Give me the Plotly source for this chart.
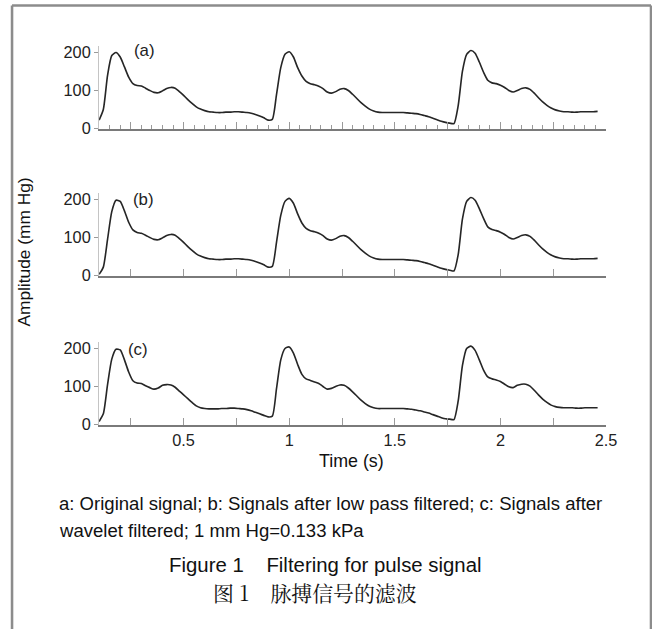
import plotly.graph_objects as go

# ---------------- data ----------------
time_s = [round(0.10 + 0.02 * i, 2) for i in range(119)]  # sampling grid 0.10 .. 2.46 s

signal_a = [
    22, 50, 140, 192, 200, 188, 162, 135, 118, 113,
    112, 106, 100, 95, 94, 99, 105, 108, 106, 97,
    87, 76, 66, 57, 51, 47, 44, 43, 42, 42,
    43, 43, 44, 44, 43, 42, 40, 37, 33, 28,
    22, 24, 90, 160, 195, 202, 188, 160, 138, 124,
    118, 115, 111, 105, 96, 93, 97, 103, 105, 100,
    90, 79, 68, 59, 51, 46, 43, 42, 42, 42,
    42, 42, 42, 41, 40, 39, 37, 34, 31, 27,
    23, 19, 16, 14, 13, 60, 150, 195, 205, 198,
    175, 148, 127, 120, 118, 114, 108, 100, 96, 100,
    105, 107, 103, 93, 81, 70, 61, 54, 49, 46,
    44, 44, 43, 43, 44, 44, 44, 44, 45,
]

signal_b = [
    3, 22, 95, 168, 198, 195, 170, 140, 120, 113,
    111, 106, 100, 95, 94, 99, 105, 108, 106, 97,
    87, 76, 66, 57, 51, 47, 44, 43, 42, 42,
    43, 43, 44, 44, 43, 42, 40, 37, 33, 28,
    22, 24, 88, 158, 195, 203, 190, 162, 138, 124,
    118, 115, 111, 105, 96, 93, 97, 103, 105, 100,
    90, 79, 68, 59, 51, 46, 43, 42, 42, 42,
    42, 42, 42, 41, 40, 39, 37, 34, 31, 27,
    23, 19, 16, 14, 12, 55, 148, 195, 205, 198,
    176, 150, 128, 121, 118, 114, 108, 100, 96, 100,
    105, 107, 103, 93, 81, 70, 61, 54, 49, 46,
    44, 44, 43, 43, 44, 44, 44, 44, 45,
]

signal_c = [
    8, 28, 105, 172, 198, 196, 170, 138, 115, 109,
    108, 102, 97, 93, 96, 103, 105, 104, 98, 88,
    78, 68, 58, 49, 44, 42, 41, 41, 41, 42,
    42, 43, 43, 42, 41, 39, 36, 32, 28, 24,
    20, 22, 95, 170, 200, 204, 188, 158, 132, 120,
    116, 112, 108, 100, 93, 95, 100, 104, 103, 96,
    86, 75, 64, 55, 48, 44, 42, 42, 42, 42,
    42, 42, 42, 41, 40, 38, 36, 33, 30, 26,
    22, 18, 15, 14, 13, 62, 155, 200, 206, 195,
    170, 143, 125, 120, 117, 113, 106, 99, 97, 103,
    106, 106, 101, 90, 78, 67, 58, 51, 47, 45,
    44, 44, 44, 43, 43, 44, 44, 44, 44,
]

panel_labels = ["(a)", "(b)", "(c)"]
x_tickvals = [0.25, 0.5, 0.75, 1.0, 1.25, 1.5, 1.75, 2.0, 2.25, 2.5]
x_ticktext = ["", "0.5", "", "1", "", "1.5", "", "2", "", "2.5"]
x_minor_vals = [round(0.05 * k, 2) for k in range(3, 50) if k % 5 != 0]
y_tickvals = [0, 100, 200]
y_ticktext = ["0", "100", "200"]
y_title = "Amplitude (mm Hg)"
x_title = "Time (s)"
note_lines = [
    "a: Original signal; b: Signals after low pass filtered; c: Signals after",
    "wavelet filtered; 1 mm Hg=0.133 kPa",
]
title_en = "Figure 1    Filtering for pulse signal"
title_zh = "图 1    脉搏信号的滤波"

# ---------------- layout helpers ----------------
W, H = 652, 629          # reference pixel grid (positions below are in these pixels)
S = 1.0 / 0.981          # compensation for the page capture scale
WO, HO = round(W * S), round(H * S)
DY = 2.5                 # small vertical offset compensation

def fx(px):
    return px / W
def fy(px):
    return 1 - (px - DY) / H
def sz(v):
    return v * S

NARROW = "Liberation Sans Narrow, Arial Narrow, Liberation Sans, Arial, sans-serif"
SANS = "Liberation Sans, Arial, Helvetica, sans-serif"
LINE = "#262626"

x_dom = [fx(98.8), fx(604.2)]
panel_px = [(128, 45.5), (275, 192.5), (424, 341.5)]  # (pixel of y=0, pixel of y=217)
y_range = [0, 217]

fig = go.Figure()
series = [signal_a, signal_b, signal_c]
for i, sig in enumerate(series):
    n = "" if i == 0 else str(i + 1)
    fig.add_trace(go.Scatter(
        x=time_s, y=sig, mode="lines",
        line=dict(color=LINE, width=sz(1.6), shape="spline", smoothing=0.6),
        xaxis="x" + n, yaxis="y" + n, showlegend=False, hoverinfo="skip",
    ))

layout = dict(
    width=WO, height=HO,
    margin=dict(l=0, r=0, t=0, b=0),
    paper_bgcolor="white", plot_bgcolor="white",
    showlegend=False,
)
for i in range(3):
    n = "" if i == 0 else str(i + 1)
    y0, y1 = panel_px[i]
    xa = dict(
        domain=x_dom, range=[0.1, 2.5], anchor="y" + n,
        showline=True, linecolor="#7a7a7a", linewidth=sz(1.5),
        ticks="inside", ticklen=sz(7), tickwidth=sz(1.2), tickcolor="#9a9a9a",
        tickmode="array", tickvals=x_tickvals, ticktext=x_ticktext,
        showticklabels=(i == 2),
        tickfont=dict(family=NARROW, size=sz(16), color="#222"),
        showgrid=False, zeroline=False,
    )
    if i == 0:
        xa["minor"] = dict(ticks="inside", ticklen=sz(3.5), tickwidth=sz(1), tickcolor="#9a9a9a",
                           tickmode="array", tickvals=x_minor_vals, showgrid=False)
    ya = dict(
        domain=[fy(y0), fy(y1)], range=y_range, anchor="x" + n,
        showline=True, linecolor="#c4c4c4", linewidth=sz(1),
        ticks="outside", ticklen=sz(4), tickwidth=sz(1), tickcolor="#9a9a9a",
        tickmode="array", tickvals=y_tickvals, ticktext=y_ticktext,
        tickfont=dict(family=NARROW, size=sz(16), color="#222"),
        showgrid=False, zeroline=False,
    )
    layout["xaxis" + n] = xa
    layout["yaxis" + n] = ya

fig.update_layout(**layout)

def note(x, y, text, size, family=SANS, xanchor="center", angle=0):
    return dict(x=fx(x), y=fy(y), xref="paper", yref="paper", text=text,
                xanchor=xanchor, yanchor="middle", textangle=angle, showarrow=False,
                font=dict(family=family, size=sz(size), color="#111"))

ann = []
label_pos = [(0.315, 205), (0.31, 200), (0.286, 196)]
for i, lab in enumerate(panel_labels):
    n = "" if i == 0 else str(i + 1)
    ann.append(dict(x=label_pos[i][0], y=label_pos[i][1], xref="x" + n, yref="y" + n,
                    text=lab, showarrow=False, xanchor="center", yanchor="middle",
                    font=dict(family=NARROW, size=sz(16.5), color="#222")))

ann.append(note(23, 252, y_title, 17, angle=-90))
ann.append(note(350, 460, x_title, 17.5))
ann.append(note(57, 503, note_lines[0], 18.2, xanchor="left"))
ann.append(note(57, 530, note_lines[1], 18.2, xanchor="left"))
ann.append(note(166, 564, title_en, 20, xanchor="left"))
ann.append(note(210, 591, title_zh, 20.5, xanchor="left",
                family="Noto Serif CJK SC, Noto Sans CJK SC, sans-serif"))
fig.update_layout(annotations=ann)

# outer frame (left, top, right; open at the bottom)
frame = dict(color="#8c8c8c", width=sz(2.5))
fig.add_shape(type="line", xref="paper", yref="paper", x0=fx(12), x1=fx(12), y0=0, y1=fy(5), line=frame)
fig.add_shape(type="line", xref="paper", yref="paper", x0=fx(12), x1=fx(649), y0=fy(5), y1=fy(5), line=frame)
fig.add_shape(type="line", xref="paper", yref="paper", x0=fx(649), x1=fx(649), y0=0, y1=fy(5), line=frame)

page_css = ("document.documentElement.style.margin='0';document.documentElement.style.overflow='hidden';"
            "document.body.style.margin='0';document.body.style.padding='0';document.body.style.overflow='hidden';")
fig.write_html("out.html", post_script=page_css, config={"displayModeBar": False})
